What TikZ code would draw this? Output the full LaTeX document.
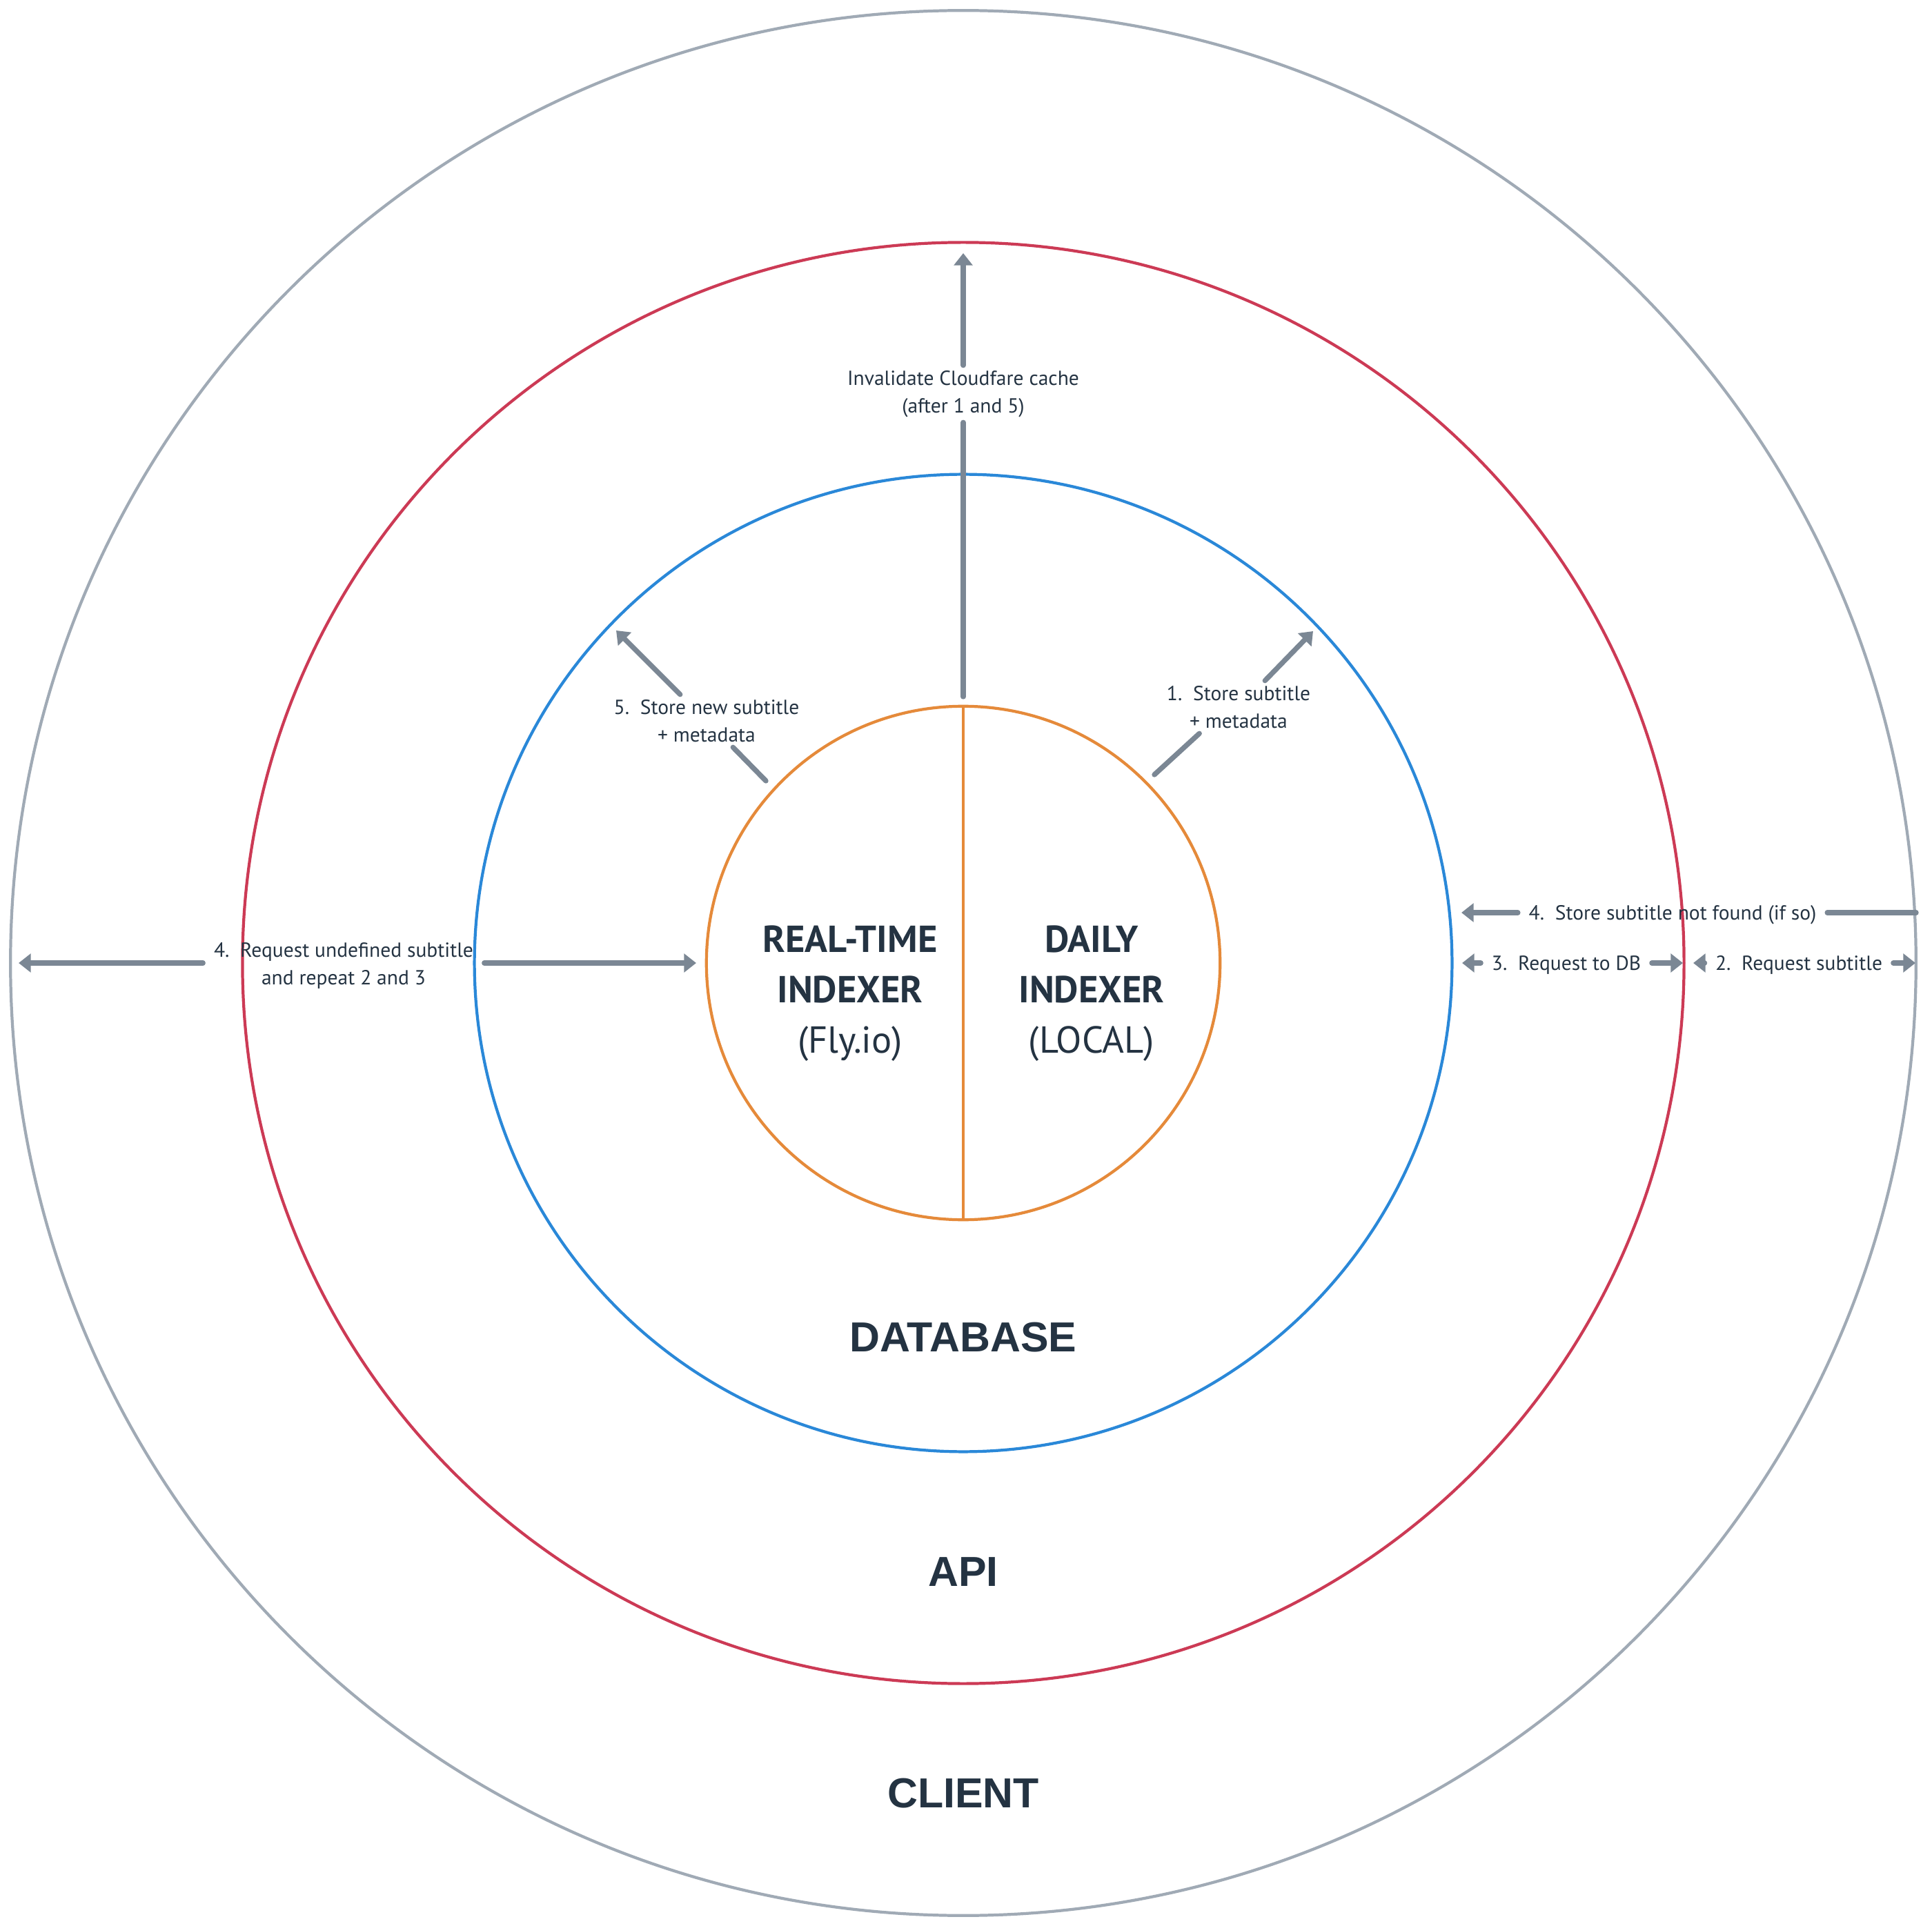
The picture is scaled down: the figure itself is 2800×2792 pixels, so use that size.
\documentclass[tikz,border=0pt]{standalone}
\usepackage{fontspec}
\setmainfont{PT Sans}
\newfontfamily\layerfont{Liberation Sans}
\usetikzlibrary{arrows.meta}

\definecolor{clientgray}{HTML}{A0AAB5}
\definecolor{apired}{HTML}{CC3A55}
\definecolor{dbblue}{HTML}{2A88D8}
\definecolor{idxorange}{HTML}{E58A3A}
\definecolor{flowgray}{HTML}{7B8794}
\definecolor{ink}{HTML}{243342}

\begin{document}
\begin{tikzpicture}[x=0.01cm,y=-0.01cm]
	\tikzset{
		ring/.style={circle,draw,line width=1.2pt,inner sep=0pt,outer sep=0pt},
		wire/.style={draw=flowgray,line width=2.1pt,line cap=round},
		flow/.style={wire,-{Triangle[length=5pt,width=7.5pt]}},
		note/.style={text=ink,font=\fontsize{8.4}{11.3}\selectfont,align=center,inner xsep=4.3pt,inner ysep=2pt},
		layer/.style={text=ink,font=\layerfont\bfseries\fontsize{17.3}{20}\selectfont},
		indexer/.style={text=ink,align=center,font=\fontsize{15.5}{20.8}\selectfont}
	}
	\useasboundingbox (0,0) rectangle (2800,2792);

	%% rings
	\node[ring,draw=clientgray,minimum size=27.6cm] (client) at (1396,1396) {};
	\node[ring,draw=apired,minimum size=20.88cm] (api) at (1396,1396) {};
	\node[ring,draw=dbblue,minimum size=14.16cm] (db) at (1396,1396) {};
	\node[ring,draw=idxorange,minimum size=7.44cm] (idx) at (1396,1396) {};
	\draw[idxorange,line width=1.2pt] (idx.north) -- (idx.south);

	%% layer names
	\node[indexer] (realtime) at (1232,1440) {\textbf{REAL-TIME}\\\textbf{INDEXER}\\(Fly.io)};
	\node[indexer] (daily) at (1582,1440) {\textbf{DAILY}\\\textbf{INDEXER}\\(LOCAL)};
	\node[layer] (dbname) at (1396,1939) {DATABASE};
	\node[layer] (apiname) at (1396,2279) {API};
	\node[layer] (clientname) at (1396,2600) {CLIENT};

	%% arrow ends
	\coordinate (cacheTail) at (1396,1010);
	\coordinate (cacheTip) at (1396,367);
	\coordinate (s5Tail) at (1110,1132);
	\coordinate (s5Tip) at (893,914);
	\coordinate (s1Tail) at (1673,1123);
	\coordinate (s1Tip) at (1903,915);
	\coordinate (u4Left) at (27,1396);
	\coordinate (u4Right) at (1009,1396);
	\coordinate (nf4Tip) at (2118,1323);
	\coordinate (nf4End) at (2777,1323);
	\coordinate (r3Db) at (2119,1396);
	\coordinate (r3Api) at (2439,1396);
	\coordinate (r2Api) at (2454,1396);
	\coordinate (r2Client) at (2776,1396);

	%% labels
	\node[note] (cache) at (1396,571) {Invalidate Cloudfare cache\\(after 1 and 5)};
	\node[note] (store5) at (1024,1045) {5.\ \ Store new subtitle\\+ metadata};
	\node[note] (store1) at (1795,1025) {1.\ \ Store subtitle\\+ metadata};
	\node[note] (undef4) at (498,1400) {4.\ \ Request undefined subtitle\\and repeat 2 and 3};
	\node[note] (notfound4) at (2424,1326) {4.\ \ Store subtitle not found (if so)};
	\node[note] (req3) at (2270,1399) {3.\ \ Request to DB};
	\node[note] (req2) at (2607,1399) {2.\ \ Request subtitle};

	%% flows
	\draw[wire] (cacheTail) -- (cache.south);
	\draw[flow] (cache.north) -- (cacheTip);
	\draw[wire] (s5Tail) -- (store5.-45);
	\draw[flow] (store5.135) -- (s5Tip);
	\draw[wire] (s1Tail) -- (store1.-146);
	\draw[flow] (store1.45) -- (s1Tip);
	\draw[flow] (undef4.west |- u4Left) -- (u4Left);
	\draw[flow] (undef4.east |- u4Right) -- (u4Right);
	\draw[flow] (notfound4.west |- nf4Tip) -- (nf4Tip);
	\draw[wire] (notfound4.east |- nf4End) -- (nf4End);
	\draw[flow] (req3.west |- r3Db) -- (r3Db);
	\draw[flow] (req3.east |- r3Api) -- (r3Api);
	\draw[flow] (req2.west |- r2Api) -- (r2Api);
	\draw[flow] (req2.east |- r2Client) -- (r2Client);
\end{tikzpicture}
\end{document}
